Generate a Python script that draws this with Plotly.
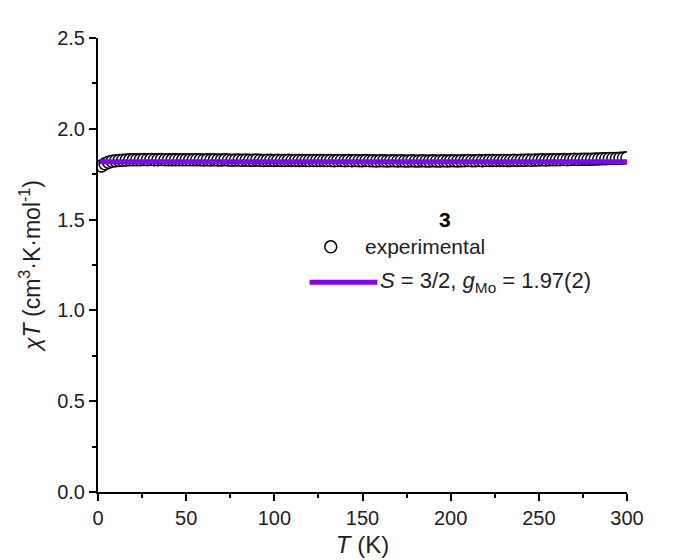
import plotly.graph_objects as go

# Experimental chi*T data (T in K, chiT in cm3 K mol-1)
T_exp = [2, 4, 6, 8, 10, 12, 14, 16, 18, 20, 22, 24, 26, 28, 30, 32, 34, 36, 38, 40,
         42, 44, 46, 48, 50, 52, 54, 56, 58, 60, 62, 64, 66, 68, 70, 72, 74, 76, 78, 80,
         82, 84, 86, 88, 90, 92, 94, 96, 98, 100, 102, 104, 106, 108, 110, 112, 114, 116, 118, 120,
         122, 124, 126, 128, 130, 132, 134, 136, 138, 140, 142, 144, 146, 148, 150, 152, 154, 156, 158, 160,
         162, 164, 166, 168, 170, 172, 174, 176, 178, 180, 182, 184, 186, 188, 190, 192, 194, 196, 198, 200,
         202, 204, 206, 208, 210, 212, 214, 216, 218, 220, 222, 224, 226, 228, 230, 232, 234, 236, 238, 240,
         242, 244, 246, 248, 250, 252, 254, 256, 258, 260, 262, 264, 266, 268, 270, 272, 274, 276, 278, 280,
         282, 284, 286, 288, 290, 292, 294, 296, 298, 300]
chiT_exp = [1.795, 1.808, 1.816, 1.821, 1.824, 1.826, 1.827, 1.828, 1.829, 1.829,
            1.830, 1.830, 1.831, 1.830, 1.831, 1.830, 1.830, 1.831, 1.830, 1.830,
            1.829, 1.830, 1.830, 1.829, 1.830, 1.829, 1.829, 1.830, 1.829, 1.828,
            1.829, 1.828, 1.829, 1.828, 1.828, 1.829, 1.828, 1.827, 1.828, 1.828,
            1.827, 1.828, 1.827, 1.827, 1.828, 1.827, 1.826, 1.827, 1.827, 1.826,
            1.827, 1.826, 1.826, 1.827, 1.826, 1.826, 1.825, 1.826, 1.826, 1.825,
            1.826, 1.825, 1.825, 1.826, 1.825, 1.825, 1.824, 1.825, 1.825, 1.824,
            1.825, 1.824, 1.825, 1.824, 1.824, 1.825, 1.824, 1.824, 1.823, 1.824,
            1.824, 1.823, 1.824, 1.824, 1.823, 1.824, 1.823, 1.823, 1.824, 1.823,
            1.823, 1.824, 1.823, 1.823, 1.824, 1.823, 1.823, 1.824, 1.823, 1.824,
            1.824, 1.823, 1.824, 1.824, 1.825, 1.824, 1.824, 1.825, 1.824, 1.825,
            1.825, 1.826, 1.825, 1.826, 1.826, 1.825, 1.826, 1.827, 1.826, 1.827,
            1.827, 1.828, 1.827, 1.828, 1.828, 1.829, 1.828, 1.829, 1.829, 1.830,
            1.830, 1.831, 1.830, 1.831, 1.832, 1.831, 1.832, 1.833, 1.832, 1.833,
            1.834, 1.834, 1.835, 1.835, 1.836, 1.837, 1.837, 1.838, 1.839, 1.841]

# Fit: S = 3/2, g_Mo = 1.97(2)
T_fit = [1, 300]
chiT_fit = [1.819, 1.819]

x_ticks = [0, 50, 100, 150, 200, 250, 300]
y_ticks = [0.0, 0.5, 1.0, 1.5, 2.0, 2.5]

FONT = "Liberation Sans, Arial, sans-serif"
PURPLE = "#7f00ff"
TXT = "#222"

fig = go.Figure()
fig.add_trace(go.Scatter(
    x=T_exp, y=chiT_exp, mode="markers", name="experimental",
    marker=dict(symbol="circle", size=12, color="white",
                line=dict(color="black", width=1.5)),
    showlegend=False))
fig.add_trace(go.Scatter(
    x=T_fit, y=chiT_fit, mode="lines", name="fit",
    line=dict(color=PURPLE, width=5), showlegend=False))

axis_common = dict(
    showline=True, linecolor="black", linewidth=2, mirror=False,
    ticks="outside", ticklen=7, tickwidth=2, tickcolor="black",
    showgrid=False, zeroline=False,
    tickfont=dict(family=FONT, size=20, color=TXT),
)

fig.update_xaxes(
    range=[0, 300], tickvals=x_ticks,
    title=dict(text="<i>T</i> (K)", font=dict(family=FONT, size=24, color=TXT), standoff=8),
    minor=dict(ticks="outside", ticklen=4, tickwidth=2, tickcolor="black", dtick=25, tick0=0),
    **axis_common)
fig.update_yaxes(
    range=[0, 2.5], tickvals=y_ticks, tickformat=".1f",
    title=dict(text="<i>χT</i> (cm<sup>3</sup>·K·mol<sup>-1</sup>)",
               font=dict(family=FONT, size=23, color=TXT), standoff=10),
    minor=dict(ticks="outside", ticklen=4, tickwidth=2, tickcolor="black", dtick=0.25, tick0=0),
    **axis_common)

# Legend drawn manually to match reference layout
fig.add_annotation(xref="paper", yref="paper", x=0.671, y=0.60, text="<b>3</b>",
                   showarrow=False, font=dict(family=FONT, size=21, color="black"))
fig.add_shape(type="circle", xref="paper", yref="paper", xsizemode="pixel", ysizemode="pixel",
              xanchor=0.440, yanchor=0.540, x0=-6, x1=6, y0=-6, y1=6,
              line=dict(color="black", width=1.5), fillcolor="white")
fig.add_annotation(xref="paper", yref="paper", x=0.500, y=0.540, text="experimental",
                   xanchor="left", showarrow=False, font=dict(family=FONT, size=21, color=TXT))
fig.add_shape(type="line", xref="paper", yref="paper", x0=0.400, x1=0.528, y0=0.462, y1=0.462,
              line=dict(color=PURPLE, width=5))
fig.add_annotation(xref="paper", yref="paper", x=0.530, y=0.462,
                   text="<i>S</i> = 3/2, <i>g</i><sub>Mo</sub> = 1.97(2)",
                   xanchor="left", showarrow=False, font=dict(family=FONT, size=22, color=TXT))

fig.update_layout(
    width=679, height=560,
    margin=dict(l=90, r=60, t=30, b=76, autoexpand=False),
    paper_bgcolor="white", plot_bgcolor="white",
    font=dict(family=FONT),
)

fig.write_html("out.html")
